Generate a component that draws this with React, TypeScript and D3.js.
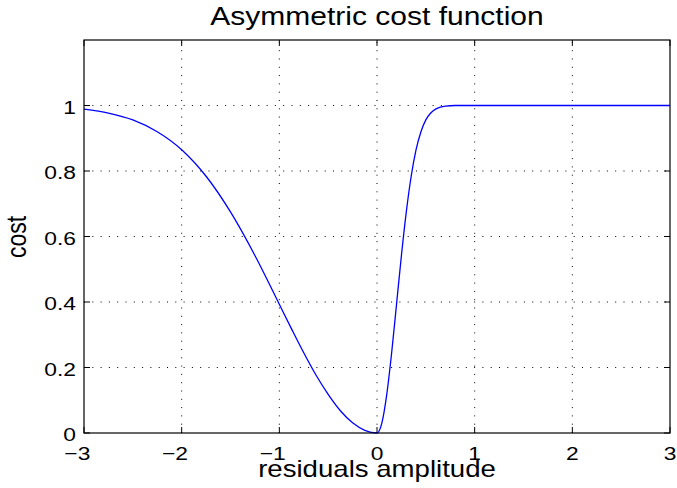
import React from "react";
import * as d3 from "d3";

const xValues = [-3, -2.75, -2.5, -2.25, -2, -1.75, -1.5, -1.25, -1, -0.875, -0.75, -0.625, -0.5, -0.375, -0.25, -0.125, 0,
  0.05, 0.1, 0.15, 0.2, 0.25, 0.3, 0.35, 0.4, 0.45, 0.5, 0.55, 0.6, 0.65, 0.7, 0.8, 1, 2, 3];
const costValues = [0.989, 0.977, 0.956, 0.920, 0.865, 0.784, 0.675, 0.542, 0.393, 0.318, 0.245, 0.177, 0.118, 0.068, 0.031, 0.008, 0,
  0.031, 0.118, 0.245, 0.393, 0.542, 0.675, 0.784, 0.865, 0.920, 0.956, 0.977, 0.989, 0.995, 0.998, 1.0, 1.0, 1.0, 1.0];
const xTicks = [-3, -2, -1, 0, 1, 2, 3];
const yTicks = [0, 0.2, 0.4, 0.6, 0.8, 1];
const title = "Asymmetric cost function";
const xLabel = "residuals amplitude";
const yLabel = "cost";

const W = 677, H = 488;
const L = 84, R = 670, T = 40, B = 433;
const SX = 1.2;

export default function App() {
  const x = d3.scaleLinear().domain([-3, 3]).range([L, R]);
  const y = d3.scaleLinear().domain([0, 1.2]).range([B, T]);
  const pts = xValues.map((v, i) => [v, costValues[i]] as [number, number]);
  const line = d3.line<[number, number]>().x(d => x(d[0])).y(d => y(d[1])).curve(d3.curveMonotoneX);
  const font = "'Liberation Sans', Arial, Helvetica, sans-serif";
  const dash = "1,7.3";
  const tickFs = 19;
  const digitHalf = (tickFs * 0.556 * SX) / 2;
  return (
    <svg width={W} height={H} style={{ position: "absolute", left: 0, top: 0, background: "#fff" }} fontFamily={font}>
      <rect x={0} y={0} width={W} height={H} fill="#fff" />
      {xTicks.slice(1, -1).map(t => (
        <line key={"gx" + t} x1={x(t)} x2={x(t)} y1={B} y2={T} stroke="#000" strokeWidth={1} strokeDasharray={dash} />
      ))}
      {yTicks.slice(1).map(t => (
        <line key={"gy" + t} x1={L} x2={R} y1={y(t)} y2={y(t)} stroke="#000" strokeWidth={1} strokeDasharray={dash} />
      ))}
      {xTicks.map(t => (
        <g key={"tx" + t}>
          <line x1={x(t)} x2={x(t)} y1={B} y2={B - 6} stroke="#000" />
          <line x1={x(t)} x2={x(t)} y1={T} y2={T + 6} stroke="#000" />
          <text transform={`translate(${x(t) + digitHalf},${B + 27}) scale(${SX},1)`} textAnchor="end" fontSize={tickFs}>
            {t < 0 ? "\u2212" + Math.abs(t) : String(t)}
          </text>
        </g>
      ))}
      {yTicks.map(t => (
        <g key={"ty" + t}>
          <line x1={L} x2={L + 6} y1={y(t)} y2={y(t)} stroke="#000" />
          <line x1={R} x2={R - 6} y1={y(t)} y2={y(t)} stroke="#000" />
          <text transform={`translate(${L - 8},${y(t) + 8}) scale(${SX},1)`} textAnchor="end" fontSize={tickFs}>{String(t)}</text>
        </g>
      ))}
      <path d={line(pts) || ""} fill="none" stroke="#0000ff" strokeWidth={1.3} />
      <rect x={L} y={T} width={R - L} height={B - T} fill="none" stroke="#000" strokeWidth={1.2} />
      <text transform={`translate(${(L + R) / 2},25) scale(${SX},1)`} textAnchor="middle" fontSize={25}>{title}</text>
      <text transform={`translate(${(L + R) / 2},477) scale(${SX},1)`} textAnchor="middle" fontSize={23}>{xLabel}</text>
      <text transform={`translate(26,${237}) scale(${SX},1) rotate(-90)`} textAnchor="middle" fontSize={23}>{yLabel}</text>
    </svg>
  );
}
